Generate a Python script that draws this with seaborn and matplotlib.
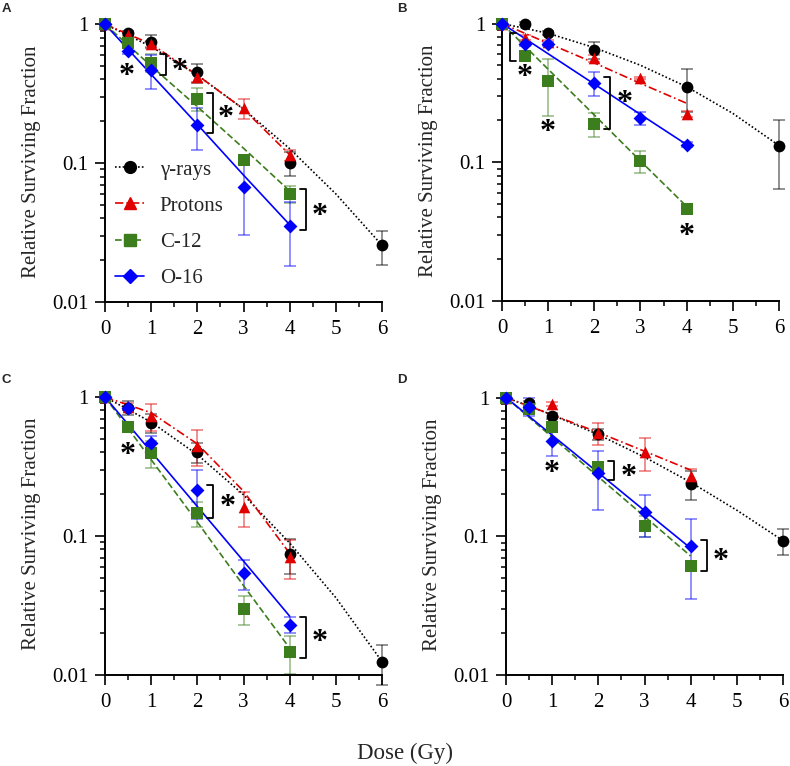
"""
Clonogenic survival curves: gamma-rays, protons, C-12 and O-16
"""

import matplotlib
matplotlib.use("Agg")
import matplotlib.pyplot as plt
from matplotlib.lines import Line2D
from matplotlib.ticker import LogLocator, MultipleLocator, FixedLocator, FixedFormatter, NullFormatter
import seaborn as sns


# doses (Gy)
dose_gamma = [0, 0.5, 1, 2, 4, 6]
dose_ion = [0, 0.5, 1, 2, 3, 4]
fit_dose_gamma = [0, 1, 2, 3, 4, 5, 6]
fit_dose_ion = [0, 1, 2, 3, 4]

# ---- panel A ----
A_gamma = [1, 0.87, 0.75, 0.45, 0.101, 0.0256]
A_gamma_sd = [0.03, 0.03, 0.08, 0.07, 0.02, 0.007]
A_gamma_fit = [1, 0.69, 0.43, 0.245, 0.127, 0.06, 0.0256]
A_prot = [1, 0.84, 0.72, 0.415, 0.248, 0.114]
A_prot_sd = [0.03, 0.03, 0.04, 0.03, 0.04, 0.01]
A_prot_fit = [1, 0.72, 0.43, 0.245, 0.115]
A_c12 = [1, 0.73, 0.53, 0.291, 0.106, 0.060]
A_c12_sd = [0.02, 0.05, 0.08, 0.055, 0.005, 0.008]
A_c12_fit = [1, 0.50, 0.255, 0.128, 0.063]
A_o16 = [1, 0.645, 0.469, 0.187, 0.0675, 0.0353]
A_o16_sd = [0.03, 0.03, 0.13, 0.063, 0.037, 0.017]
A_o16_fit = [1, 0.435, 0.19, 0.082, 0.036]
A_brackets = [(1.32, 0.61, 0.43, -1), (2.33, 0.32, 0.164, -1), (4.35, 0.065, 0.033, -1)]
A_stars = [(0.48, 0.46), (1.61, 0.50), (2.62, 0.228), (4.64, 0.045)]

# ---- panel B ----
B_gamma = [1, 1.0, 0.85, 0.647, 0.351, 0.132]
B_gamma_sd = [0.02, 0.02, 0.03, 0.09, 0.12, 0.068]
B_gamma_fit = [1, 0.85, 0.67, 0.50, 0.35, 0.225, 0.132]
B_prot = [1, 0.79, 0.73, 0.56, 0.405, 0.223]
B_prot_sd = [0.02, 0.03, 0.03, 0.03, 0.01, 0.01]
B_prot_fit = [1, 0.72, 0.52, 0.37, 0.266]
B_c12 = [1, 0.586, 0.387, 0.189, 0.102, 0.046]
B_c12_sd = [0.02, 0.03, 0.17, 0.038, 0.019, 0.003]
B_c12_fit = [1, 0.468, 0.219, 0.102, 0.048]
B_o16 = [1, 0.71, 0.71, 0.373, 0.209, 0.134]
B_o16_sd = [0.02, 0.02, 0.02, 0.072, 0.022, 0.005]
B_o16_fit = [1, 0.605, 0.366, 0.221, 0.134]
B_brackets = [(0.18, 0.86, 0.54, 1), (2.35, 0.41, 0.174, -1)]
B_stars = [(0.5, 0.445), (1.0, 0.18), (2.65, 0.29), (4.0, 0.032)]

# ---- panel C ----
C_gamma = [1, 0.84, 0.65, 0.40, 0.074, 0.0125]
C_gamma_sd = [0.02, 0.1, 0.1, 0.065, 0.021, 0.004]
C_gamma_fit = [1, 0.66, 0.385, 0.198, 0.089, 0.036, 0.0125]
C_prot = [1, 0.85, 0.73, 0.447, 0.162, 0.071]
C_prot_sd = [0.02, 0.05, 0.16, 0.13, 0.046, 0.022]
C_prot_fit = [1, 0.77, 0.46, 0.21, 0.075]
C_c12 = [1, 0.605, 0.395, 0.146, 0.030, 0.0146]
C_c12_sd = [0.02, 0.03, 0.085, 0.029, 0.007, 0.0045]
C_c12_fit = [1, 0.354, 0.126, 0.044, 0.0156]
C_o16 = [1, 0.83, 0.467, 0.216, 0.054, 0.023]
C_o16_sd = [0.02, 0.03, 0.06, 0.084, 0.013, 0.003]
C_o16_fit = [1, 0.404, 0.163, 0.066, 0.0265]
C_brackets = [(2.35, 0.234, 0.135, -1), (4.35, 0.026, 0.0133, -1)]
C_stars = [(0.5, 0.418), (2.65, 0.175), (4.65, 0.0187)]

# ---- panel D ----
D_gamma = [1, 0.92, 0.738, 0.544, 0.238, 0.093]
D_gamma_sd = [0.02, 0.03, 0.04, 0.05, 0.055, 0.02]
D_gamma_fit = [1, 0.75, 0.54, 0.372, 0.245, 0.154, 0.093]
D_prot = [1, 0.87, 0.895, 0.553, 0.404, 0.273]
D_prot_sd = [0.02, 0.03, 0.03, 0.1, 0.11, 0.03]
D_prot_fit = [1, 0.75, 0.56, 0.41, 0.30]
D_c12 = [1, 0.83, 0.611, 0.315, 0.119, 0.0607]
D_c12_sd = [0.02, 0.03, 0.03, 0.03, 0.02, 0.003]
D_c12_fit = [1, 0.518, 0.268, 0.139, 0.072]
D_o16 = [1, 0.86, 0.488, 0.285, 0.149, 0.0845]
D_o16_sd = [0.03, 0.13, 0.11, 0.13, 0.05, 0.049]
D_o16_fit = [1, 0.535, 0.287, 0.153, 0.082]
D_brackets = [(2.35, 0.35, 0.255, -1), (4.35, 0.094, 0.056, -1)]
D_stars = [(1.0, 0.31), (2.65, 0.293), (4.65, 0.072)]


# label, colour, marker, marker area, line style
STYLE = {
    "gamma": ("γ-rays", "black", "o", 72, (0, (1, 1.3))),
    "prot": ("Protons", "#e00000", "^", 70, (0, (5, 1.8, 1, 1.8))),
    "c12": ("C-12", "#3c7d1e", "s", 64, (0, (4, 1.8))),
    "o16": ("O-16", "#0000ff", "D", 50, "-"),
}


def draw_panel(ax, series, brackets, stars):
    for key, (vals, sd, fit) in series.items():
        label, color, marker, size, ls = STYLE[key]
        doses = dose_gamma if key == "gamma" else dose_ion
        fit_doses = fit_dose_gamma if key == "gamma" else fit_dose_ion
        ax.errorbar(doses, vals, yerr=sd, fmt="none", ecolor=color, alpha=0.55,
                    elinewidth=1.1, capsize=4.5, capthick=1.1, zorder=2, clip_on=False)
        sns.lineplot(x=fit_doses, y=fit, ax=ax, color=color, linestyle=ls,
                     linewidth=1.2, zorder=3)
        sns.scatterplot(x=doses, y=vals, ax=ax, color=color, marker=marker, s=size,
                        linewidth=0, zorder=4, clip_on=False)

    for x, top, bot, side in brackets:
        t = 0.13 * side
        ax.plot([x + t, x, x, x + t], [top, top, bot, bot], color="black", lw=1.3, zorder=5)
    # the asterisk glyph sits high in its line box, so nudge it down a little
    for x, y in stars:
        ax.annotate("*", xy=(x, y), xytext=(0, -4), textcoords="offset points",
                    ha="center", va="center", fontsize=23, fontweight="bold", color="black")

    ax.set_yscale("log")
    ax.set_xlim(0, 6)
    ax.set_ylim(0.01, 1.06)
    ax.xaxis.set_major_locator(MultipleLocator(1))
    ax.xaxis.set_minor_locator(MultipleLocator(0.5))
    ax.yaxis.set_major_locator(FixedLocator([0.01, 0.1, 1]))
    ax.yaxis.set_major_formatter(FixedFormatter(["0.01", "0.1", "1"]))
    ax.yaxis.set_minor_locator(LogLocator(base=10, subs=range(2, 10)))
    ax.yaxis.set_minor_formatter(NullFormatter())
    ax.tick_params(which="major", length=7, width=1.2, labelsize=15)
    ax.tick_params(which="minor", length=3.5, width=1.1)
    ax.tick_params(axis="x", which="major", pad=6)
    ax.tick_params(axis="y", which="major", pad=5)
    for s in ["left", "bottom"]:
        ax.spines[s].set_linewidth(1.4)
    sns.despine(ax=ax)
    ax.set_xlabel("")
    ax.set_ylabel("Relative Surviving Fraction", fontsize=15, labelpad=8)


sns.set_style("ticks")
plt.rcParams["font.family"] = ["Liberation Serif", "DejaVu Serif"]
plt.rcParams["axes.edgecolor"] = "black"
plt.rcParams["xtick.color"] = "black"
plt.rcParams["ytick.color"] = "black"

fig = plt.figure(figsize=(7.9, 7.66), dpi=100)
W, H = 790, 766
boxes = {
    "A": (105, 20.7, 382, 302),
    "B": (502, 20, 779, 301),
    "C": (105, 393.5, 382, 675),
    "D": (506, 394, 783, 675),
}
letter_pos = {"A": (2, 3), "B": (397, 3), "C": (2, 374), "D": (397, 374)}
panels = {
    "A": ({"gamma": (A_gamma, A_gamma_sd, A_gamma_fit), "prot": (A_prot, A_prot_sd, A_prot_fit),
           "c12": (A_c12, A_c12_sd, A_c12_fit), "o16": (A_o16, A_o16_sd, A_o16_fit)},
          A_brackets, A_stars),
    "B": ({"gamma": (B_gamma, B_gamma_sd, B_gamma_fit), "prot": (B_prot, B_prot_sd, B_prot_fit),
           "c12": (B_c12, B_c12_sd, B_c12_fit), "o16": (B_o16, B_o16_sd, B_o16_fit)},
          B_brackets, B_stars),
    "C": ({"gamma": (C_gamma, C_gamma_sd, C_gamma_fit), "prot": (C_prot, C_prot_sd, C_prot_fit),
           "c12": (C_c12, C_c12_sd, C_c12_fit), "o16": (C_o16, C_o16_sd, C_o16_fit)},
          C_brackets, C_stars),
    "D": ({"gamma": (D_gamma, D_gamma_sd, D_gamma_fit), "prot": (D_prot, D_prot_sd, D_prot_fit),
           "c12": (D_c12, D_c12_sd, D_c12_fit), "o16": (D_o16, D_o16_sd, D_o16_fit)},
          D_brackets, D_stars),
}

axes = {}
for name, (l, t, r, b) in boxes.items():
    ax = fig.add_axes([l / W, 1 - b / H, (r - l) / W, (b - t) / H])
    draw_panel(ax, *panels[name])
    axes[name] = ax
    lx, ly = letter_pos[name]
    fig.text(lx / W, 1 - ly / H, name, fontsize=9.5, fontweight="bold",
             family="Liberation Sans", va="top", ha="left")

handles = []
for key in ["gamma", "prot", "c12", "o16"]:
    label, color, marker, size, ls = STYLE[key]
    handles.append(Line2D([], [], color=color, linestyle=ls, linewidth=1.2, marker=marker,
                          markersize=size ** 0.5, label=label))
axes["A"].legend(handles=handles, loc="upper left", bbox_to_anchor=(0.036, 0.505),
                 frameon=False, fontsize=15, handlelength=1.4, handletextpad=0.75,
                 labelspacing=0.8, borderpad=0, borderaxespad=0)

fig.text(405 / W, 1 - 753 / H, "Dose (Gy)", ha="center", va="center", fontsize=16.5)

plt.savefig("out.png", dpi=100)
